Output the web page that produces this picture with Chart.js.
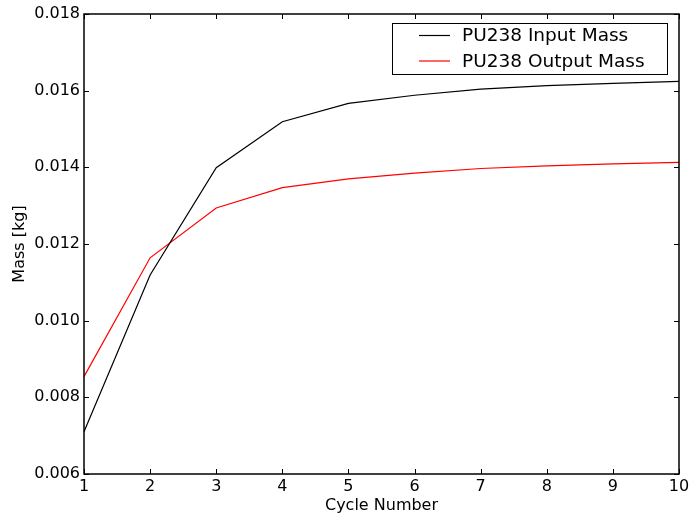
<!DOCTYPE html>
<html>
<head>
<meta charset="utf-8">
<script src="https://cdn.jsdelivr.net/npm/chart.js@4.4.0/dist/chart.umd.min.js"></script>
<style>
  html, body { margin: 0; padding: 0; background: #fff; }
  #wrap { width: 694px; height: 518px; }
</style>
</head>
<body>
<div id="wrap"><canvas id="massChart" width="694" height="518"></canvas></div>
<script>
// data
const cycles = ['1', '2', '3', '4', '5', '6', '7', '8', '9', '10'];
const inputMass = [0.00710, 0.01119, 0.01399, 0.01519, 0.01567, 0.01588, 0.01604, 0.01613, 0.01619, 0.01624];
const outputMass = [0.00854, 0.01164, 0.01294, 0.01347, 0.01370, 0.01385, 0.01397, 0.01404, 0.01409, 0.01413];
const yTicks = [0.006, 0.008, 0.010, 0.012, 0.014, 0.016, 0.018];

const FONT = 'DejaVu Sans';

// matplotlib style frame: box around plot plus inward ticks on all four sides
const frame = {
    id: 'frame',
    afterDraw(chart) {
        const { ctx, chartArea: a, scales } = chart;
        const len = 5;
        ctx.save();
        ctx.strokeStyle = '#000';
        ctx.lineWidth = 1;
        ctx.beginPath();
        scales.x.ticks.forEach((t, i) => {
            const px = Math.round(scales.x.getPixelForTick(i)) + 0.5;
            ctx.moveTo(px, a.bottom); ctx.lineTo(px, a.bottom - len);
            ctx.moveTo(px, a.top); ctx.lineTo(px, a.top + len);
        });
        scales.y.ticks.forEach(t => {
            const py = Math.round(scales.y.getPixelForValue(t.value)) + 0.5;
            ctx.moveTo(a.left, py); ctx.lineTo(a.left + len, py);
            ctx.moveTo(a.right, py); ctx.lineTo(a.right - len, py);
        });
        ctx.stroke();
        ctx.lineWidth = 1.5;
        ctx.strokeRect(a.left, a.top, a.right - a.left, a.bottom - a.top);
        ctx.restore();
    }
};

// legend box in the upper right corner of the plot
const boxLegend = {
    id: 'boxLegend',
    afterDraw(chart) {
        const { ctx, chartArea: a } = chart;
        const w = 275, h = 51;
        const x0 = a.right - 12 - w, y0 = a.top + 9;
        ctx.save();
        ctx.fillStyle = '#fff';
        ctx.fillRect(x0, y0, w, h);
        ctx.strokeStyle = '#000';
        ctx.lineWidth = 1;
        ctx.strokeRect(x0 + 0.5, y0 + 0.5, w, h);
        ctx.font = '18.5px "' + FONT + '"';
        ctx.textBaseline = 'middle';
        chart.data.datasets.forEach((ds, i) => {
            const cy = y0 + 12.5 + i * 25.5;
            ctx.strokeStyle = ds.borderColor;
            ctx.lineWidth = 1.2;
            ctx.beginPath();
            ctx.moveTo(x0 + 27, cy); ctx.lineTo(x0 + 58, cy);
            ctx.stroke();
            ctx.fillStyle = '#000';
            ctx.fillText(ds.label, x0 + 70, cy + 1);
        });
        ctx.restore();
    }
};

new Chart(document.getElementById('massChart'), {
    type: 'line',
    data: {
        labels: cycles,
        datasets: [{
            label: 'PU238 Input Mass',
            data: inputMass,
            borderColor: '#000000',
            borderWidth: 1.2,
            pointRadius: 0,
            tension: 0
        }, {
            label: 'PU238 Output Mass',
            data: outputMass,
            borderColor: '#ff0000',
            borderWidth: 1.2,
            pointRadius: 0,
            tension: 0
        }]
    },
    options: {
        responsive: false,
        animation: false,
        layout: { padding: { left: 0, right: 15, top: 14, bottom: 0 } },
        plugins: {
            legend: { display: false },
            tooltip: { enabled: false }
        },
        scales: {
            x: {
                offset: false,
                grid: { display: false, drawTicks: false, tickLength: 0 },
                border: { display: false },
                ticks: { color: '#000', font: { family: FONT, size: 16 }, padding: 3, maxRotation: 0 },
                title: { display: true, text: 'Cycle Number', color: '#000', font: { family: FONT, size: 16 }, padding: { top: 0, bottom: 3 } },
                afterFit: s => { s.height = 44; }
            },
            y: {
                min: 0.006,
                max: 0.018,
                grid: { display: false, drawTicks: false, tickLength: 0 },
                border: { display: false },
                afterBuildTicks: s => { s.ticks = yTicks.map(v => ({ value: v })); },
                ticks: {
                    color: '#000',
                    font: { family: FONT, size: 16 },
                    padding: 4,
                    callback: v => v.toFixed(3)
                },
                title: { display: true, text: 'Mass [kg]', color: '#000', font: { family: FONT, size: 16 }, padding: { top: 10, bottom: 0 } },
                afterFit: s => { s.width = 84; }
            }
        }
    },
    plugins: [frame, boxLegend]
});
</script>
</body>
</html>
